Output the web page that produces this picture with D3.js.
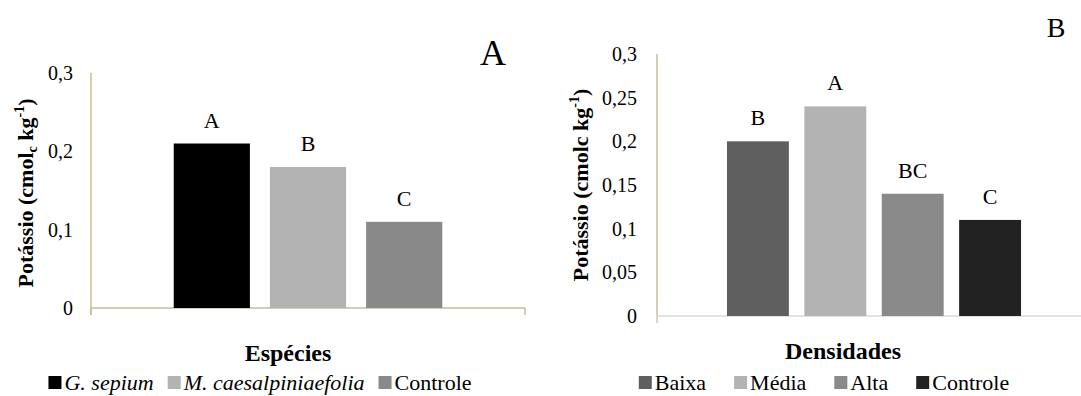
<!DOCTYPE html>
<html>
<head>
<meta charset="utf-8">
<script src="https://cdn.jsdelivr.net/npm/d3@7"></script>
<style>
  body { margin: 0; background: #fff; }
</style>
</head>
<body>
<div id="chart"></div>
<script>
// ---- data (panel A: species) ----
const speciesNames = ["G. sepium", "M. caesalpiniaefolia", "Controle"];
const speciesValues = [0.21, 0.18, 0.11];
const speciesLetters = ["A", "B", "C"];
const speciesTicks = [0, 0.1, 0.2, 0.3];

// ---- data (panel B: densities) ----
const densityNames = ["Baixa", "Média", "Alta", "Controle"];
const densityValues = [0.20, 0.24, 0.14, 0.11];
const densityLetters = ["B", "A", "BC", "C"];
const densityTicks = [0, 0.05, 0.1, 0.15, 0.2, 0.25, 0.3];

// colours
const speciesColors = ["#000000", "#b3b3b3", "#898989"];
const densityColors = ["#5f5f5f", "#b3b3b3", "#8a8a8a", "#222222"];

const FONT = "'Liberation Serif'";
const W = 1081, H = 396;
const svg = d3.select("#chart").append("svg")
    .attr("width", W)
    .attr("height", H)
    .style("font-family", FONT);

const fmt = d => String(d).replace(".", ",");

// draw one panel
function drawPanel(cfg) {
    const g = svg.append("g");

    const y = d3.scaleLinear()
        .domain([0, 0.3])
        .range([cfg.yBase, cfg.yTop]);

    const x = d3.scaleBand()
        .domain(cfg.names)
        .range([cfg.xLeft, cfg.xRight])
        .paddingInner(cfg.padIn)
        .paddingOuter(cfg.padOut);

    // y axis labels (no tick marks, no domain)
    g.append("g")
        .attr("transform", `translate(${cfg.xLeft},0)`)
        .call(d3.axisLeft(y).tickValues(cfg.ticks).tickFormat(fmt).tickSize(0).tickPadding(cfg.tickPad))
        .call(a => a.select(".domain").remove())
        .selectAll("text")
        .attr("font-size", 20)
        .attr("fill", "#000");

    // axis lines
    g.append("line")
        .attr("x1", cfg.xLeft).attr("x2", cfg.xLeft)
        .attr("y1", y(0.3)).attr("y2", cfg.yBase + 7)
        .attr("stroke", "#c4bd97").attr("stroke-width", 1.5);
    g.append("line")
        .attr("x1", cfg.xLeft).attr("x2", cfg.xRight)
        .attr("y1", cfg.yBase).attr("y2", cfg.yBase)
        .attr("stroke", cfg.baseColor).attr("stroke-width", 1.5);
    g.append("line")
        .attr("x1", cfg.xLeft).attr("x2", cfg.xLeft)
        .attr("y1", cfg.yBase).attr("y2", cfg.yBase + 7)
        .attr("stroke", cfg.baseColor).attr("stroke-width", 1.5);
    g.append("line")
        .attr("x1", cfg.xRight).attr("x2", cfg.xRight)
        .attr("y1", cfg.yBase).attr("y2", cfg.yBase + 7)
        .attr("stroke", cfg.baseColor).attr("stroke-width", 1.5);

    // bars
    g.selectAll("rect.bar")
        .data(cfg.names)
        .join("rect")
        .attr("class", "bar")
        .attr("x", d => x(d))
        .attr("width", x.bandwidth())
        .attr("y", (d, i) => y(cfg.values[i]))
        .attr("height", (d, i) => cfg.yBase - y(cfg.values[i]))
        .attr("fill", (d, i) => cfg.colors[i]);

    // significance letters
    g.selectAll("text.letter")
        .data(cfg.names)
        .join("text")
        .attr("class", "letter")
        .attr("x", d => x(d) + x.bandwidth() / 2)
        .attr("y", (d, i) => y(cfg.values[i]) - 16)
        .attr("text-anchor", "middle")
        .attr("font-size", 22)
        .text((d, i) => cfg.letters[i]);

    // y axis title
    const yl = g.append("text")
        .attr("transform", `translate(${cfg.yLabelX},${cfg.yLabelY}) rotate(-90)`)
        .attr("text-anchor", "middle")
        .attr("font-weight", "bold")
        .attr("font-size", 22);
    cfg.yLabel.forEach(part => {
        const t = yl.append("tspan").text(part.t);
        if (part.sub) t.attr("font-size", 14).attr("dy", 4);
        if (part.sup) t.attr("font-size", 14).attr("dy", -9);
        if (part.back) t.attr("dy", part.back);
    });

    // x axis title
    g.append("text")
        .attr("x", cfg.xTitleX)
        .attr("y", cfg.xTitleY)
        .attr("text-anchor", "middle")
        .attr("font-weight", "bold")
        .attr("font-size", 24)
        .text(cfg.xTitle);

    // panel letter
    g.append("text")
        .attr("x", cfg.panelX)
        .attr("y", cfg.panelY)
        .attr("text-anchor", "middle")
        .attr("font-size", cfg.panelSize)
        .text(cfg.panel);

    // legend, laid out left to right and centred
    const leg = g.append("g");
    const items = leg.selectAll("g")
        .data(cfg.names)
        .join("g");
    items.append("rect")
        .attr("width", 13).attr("height", 13)
        .attr("y", cfg.legendY - 14)
        .attr("fill", (d, i) => cfg.colors[i]);
    items.append("text")
        .attr("x", 16)
        .attr("y", cfg.legendY)
        .attr("font-size", 22)
        .attr("font-style", (d, i) => cfg.italic[i] ? "italic" : null)
        .text(d => d);
    let cx = 0;
    items.each(function () {
        const tw = d3.select(this).select("text").node().getComputedTextLength();
        d3.select(this).attr("transform", `translate(${cx},0)`);
        cx += 16 + tw + cfg.legendGap;
    });
    const total = cx - cfg.legendGap;
    leg.attr("transform", `translate(${cfg.legendCenter - total / 2},0)`);
}

drawPanel({
    names: speciesNames, values: speciesValues, letters: speciesLetters,
    colors: speciesColors, ticks: speciesTicks,
    xLeft: 91, xRight: 525, yTop: 73, yBase: 308,
    padIn: 0.208, padOut: 0.86, tickPad: 18,
    baseColor: "#c4bd97",
    yLabel: [{t: "Potássio (cmol"}, {t: "c", sub: true}, {t: " kg", back: -4}, {t: "-1", sup: true}, {t: ")", back: 9}],
    yLabelX: 33, yLabelY: 193,
    xTitle: "Espécies", xTitleX: 288, xTitleY: 361,
    panel: "A", panelX: 493, panelY: 65, panelSize: 36,
    italic: [true, true, false], legendGap: 14, legendCenter: 260, legendY: 390
});

drawPanel({
    names: densityNames, values: densityValues, letters: densityLetters,
    colors: densityColors, ticks: densityTicks,
    xLeft: 657, xRight: 1091, yTop: 54, yBase: 316,
    padIn: 0.2, padOut: 0.904, tickPad: 20,
    baseColor: "#d9d9d9",
    yLabel: [{t: "Potássio (cmolc kg"}, {t: "-1", sup: true}, {t: ")", back: 9}],
    yLabelX: 588, yLabelY: 185,
    xTitle: "Densidades", xTitleX: 843, xTitleY: 359,
    panel: "B", panelX: 1056, panelY: 37, panelSize: 28,
    italic: [false, false, false, false], legendGap: 28, legendCenter: 824, legendY: 390
});

// make sure every text uses the serif face
svg.selectAll("text").style("font-family", FONT);
</script>
</body>
</html>
